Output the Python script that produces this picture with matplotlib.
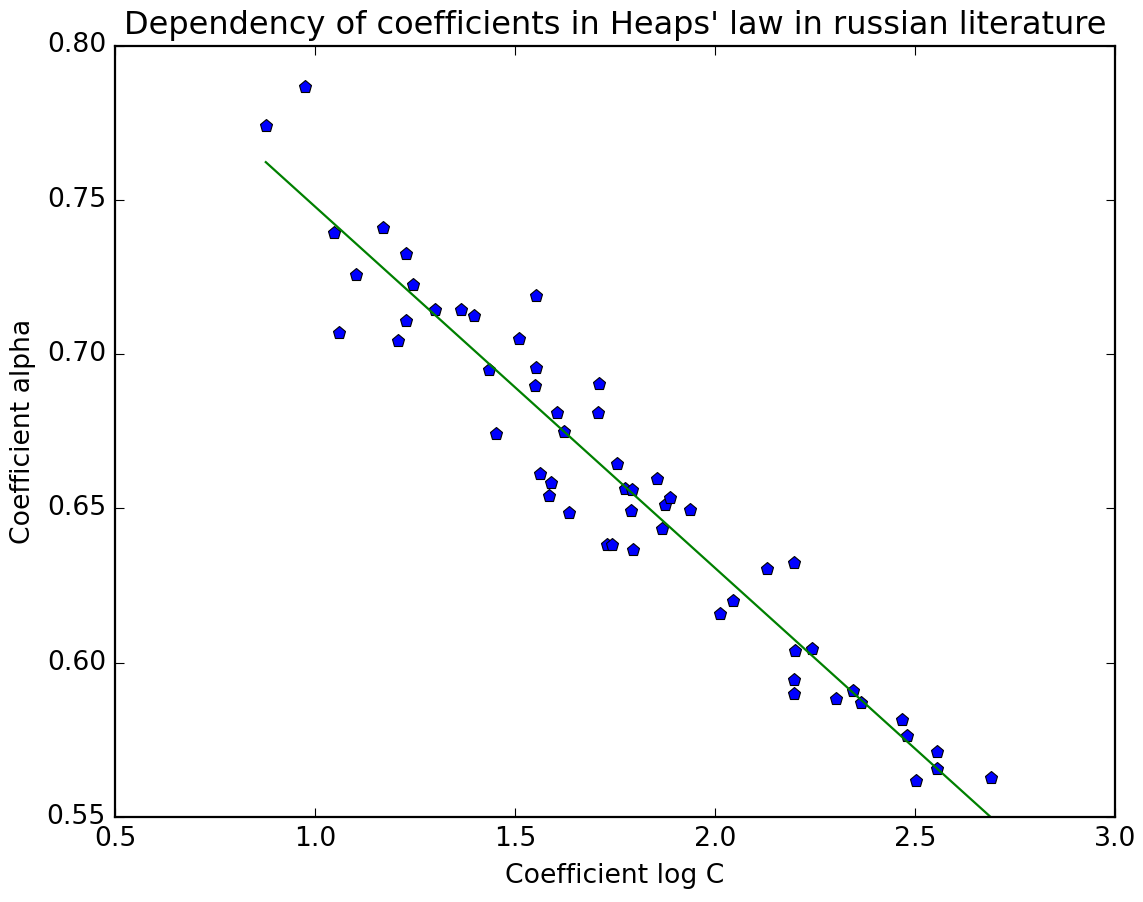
import matplotlib
matplotlib.use("Agg")
import matplotlib.pyplot as plt
import numpy as np

plt.style.use("classic")

log_c = [0.877, 0.975, 1.047, 1.061, 1.103, 1.171, 1.227, 1.244, 1.207, 1.227,
         1.300, 1.365, 1.397, 1.436, 1.453, 1.509, 1.552, 1.552, 1.549, 1.562,
         1.590, 1.586, 1.606, 1.622, 1.634, 1.711, 1.707, 1.731, 1.743, 1.755,
         1.775, 1.792, 1.791, 1.795, 1.855, 1.868, 1.875, 1.888, 1.937, 2.012,
         2.045, 2.129, 2.198, 2.200, 2.243, 2.198, 2.198, 2.303, 2.346, 2.366,
         2.468, 2.481, 2.556, 2.556, 2.503, 2.689]
alpha = [0.7738, 0.7865, 0.7393, 0.7069, 0.7257, 0.7408, 0.7325, 0.7225, 0.7042, 0.7106,
         0.7142, 0.7142, 0.7125, 0.6950, 0.6742, 0.7048, 0.7189, 0.6955, 0.6897, 0.6611,
         0.6581, 0.6541, 0.6809, 0.6746, 0.6486, 0.6902, 0.6809, 0.6383, 0.6383, 0.6643,
         0.6564, 0.6559, 0.6491, 0.6365, 0.6596, 0.6434, 0.6510, 0.6534, 0.6496, 0.6158,
         0.6200, 0.6303, 0.6324, 0.6038, 0.6044, 0.5944, 0.5899, 0.5882, 0.5908, 0.5869,
         0.5814, 0.5763, 0.5711, 0.5656, 0.5617, 0.5627]

fit_slope = -0.1171
fit_intercept = 0.8649

title = "Dependency of coefficients in Heaps' law in russian literature"
xlabel = "Coefficient log C"
ylabel = "Coefficient alpha"

dpi = 160
fig = plt.figure(figsize=(1143 / dpi, 902 / dpi), dpi=dpi, facecolor="white")
ax = fig.add_axes([115 / 1143, 1 - 817 / 902, (1115 - 115) / 1143, (817 - 45.5) / 902])

ax.plot(log_c, alpha, "p", color="b", markeredgecolor="k", markersize=6)
xf = np.array([min(log_c), max(log_c)])
ax.plot(xf, fit_slope * xf + fit_intercept, "-", color="g", linewidth=1.0)

ax.set_xlim(0.5, 3.0)
ax.set_ylim(0.55, 0.80)
ax.set_xticks([0.5, 1.0, 1.5, 2.0, 2.5, 3.0])
ax.set_yticks([0.55, 0.60, 0.65, 0.70, 0.75, 0.80])
ax.set_title(title)
ax.set_xlabel(xlabel)
ax.set_ylabel(ylabel)

fig.savefig("out.png", dpi=dpi, facecolor="white")
